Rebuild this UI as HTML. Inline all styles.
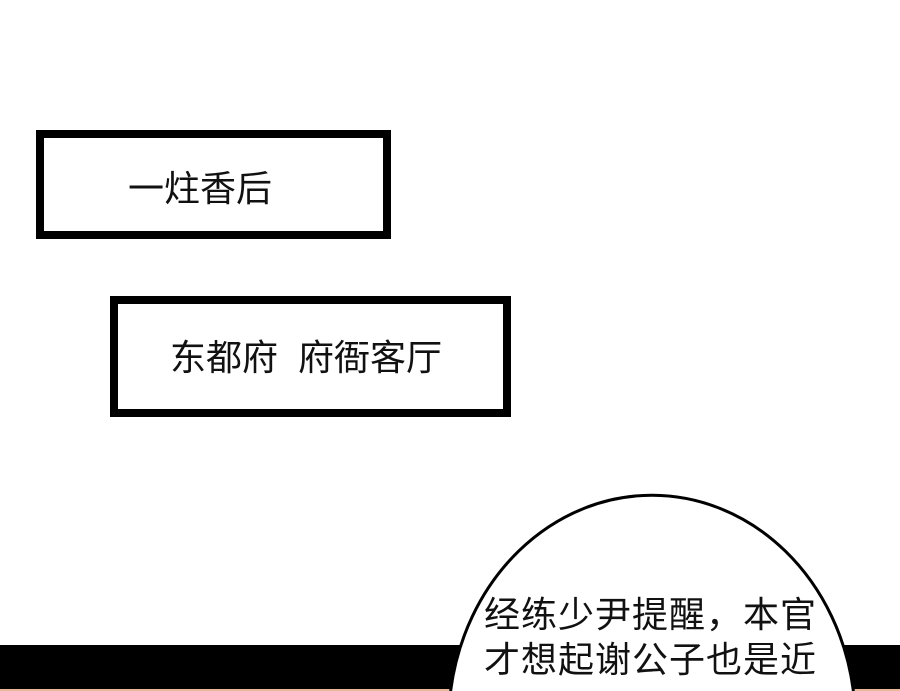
<!DOCTYPE html>
<html style="margin:0;width:900px;height:691px;overflow:hidden;"><head><meta charset="utf-8"><style>
body{margin:0;width:900px;height:691px;overflow:hidden;background:#fff;font-family:"Liberation Sans","Noto Sans CJK SC",sans-serif;}
.wrap{position:relative;width:900px;height:691px;overflow:hidden;}
.box{position:absolute;border:8px solid #000;box-sizing:border-box;background:#fff;font-size:36px;color:#111;line-height:1;white-space:nowrap;}
.box span{position:absolute;}
svg{position:absolute;left:0;top:0;display:block;}
</style></head><body><div class="wrap">
<div class="box" style="left:36px;top:130px;width:355px;height:109px;"><span style="left:84px;top:33px;">一炷香后</span></div>
<div class="box" style="left:110px;top:296px;width:401px;height:121px;"><span style="left:52px;top:36px;">东都府&nbsp;&nbsp;府衙客厅</span></div>
<svg width="900" height="691" viewBox="0 0 900 691">
<rect x="0" y="645" width="900" height="44" fill="#000"/>
<rect x="0" y="689" width="900" height="2" fill="#e8b89a"/>
<path d="M450.6 691 A203.5 228.5 0 0 1 853.4 691 Z" fill="#fff"/>
<path d="M450.6 691 A203.5 228.5 0 0 1 853.4 691" fill="none" stroke="#000" stroke-width="3"/>
<g font-family="Liberation Sans, Noto Sans CJK SC, sans-serif" font-size="36" fill="#111" letter-spacing="1">
<text x="484" y="627">经练少尹提醒，本官</text>
<text x="484" y="672">才想起谢公子也是近</text>
</g>
</svg>
</div></body></html>
